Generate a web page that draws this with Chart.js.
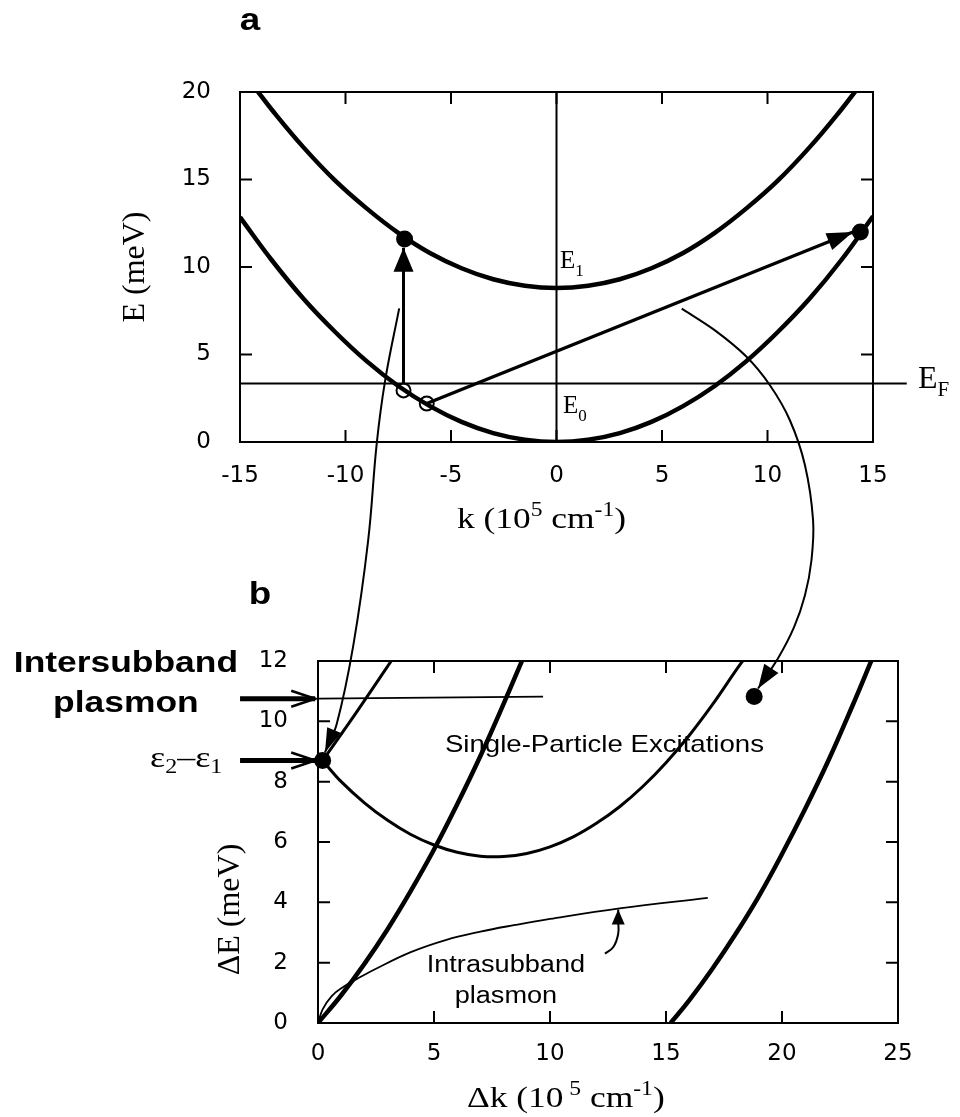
<!DOCTYPE html>
<html>
<head>
<meta charset="utf-8">
<title>Subband dispersion and excitation spectrum</title>
<script src="https://cdn.jsdelivr.net/npm/chart.js@4.4.1/dist/chart.umd.min.js"></script>
<style>
  html, body { margin: 0; background: #fff; overflow: hidden; }
  #page { position: relative; width: 960px; height: 1117px; }
  #page canvas { position: absolute; left: 0; top: 0; }
</style>
</head>
<body>
<div id="page">
  <canvas id="bands" width="960" height="1117"></canvas>
  <canvas id="spectrum" width="960" height="1117"></canvas>
</div>
<script>
// ---- panel a: subband dispersion (k in 1e5 cm^-1, E in meV) ----
const kTicks = [-15, -10, -5, 0, 5, 10, 15];
const eTicks = [0, 5, 10, 15, 20];

const kLower = [-15, -13.5, -12, -10.5, -9, -7.5, -6, -4.5, -3, -1.5, 0, 1.5, 3, 4.5, 6, 7.5, 9, 10.5, 12, 13.5, 15];
const eLower = [12.85, 10.4, 8.2, 6.3, 4.62, 3.2, 2.05, 1.15, 0.51, 0.13, 0, 0.13, 0.51, 1.15, 2.05, 3.2, 4.62, 6.3, 8.2, 10.4, 12.9];
const kUpper = [-14.3, -13.5, -12, -10.5, -9, -7.5, -6, -4.5, -3, -1.5, 0, 1.5, 3, 4.5, 6, 7.5, 9, 10.5, 12, 13.5, 14.3];
const eUpper = [20.25, 19.0, 16.85, 14.95, 13.35, 11.95, 10.8, 9.93, 9.3, 8.93, 8.8, 8.93, 9.3, 9.93, 10.8, 11.95, 13.35, 14.95, 16.85, 19.0, 20.25];

const kFermi = [-15, 16.6];
const eFermi = [3.35, 3.35];
const kZero = [0, 0];
const eZero = [0, 20];

// vertical (intersubband) and tilted (finite k) transitions
const kVert = [-7.25, -7.25];
const eVert = [3.35, 11.1];
const kTilt = [-6.15, 14.05];
const eTilt = [2.2, 12.0];
const kHoles = [-7.25, -6.15];
const eHoles = [2.95, 2.2];
const kFilled = [-7.2, 14.4];
const eFilled = [11.6, 12.0];

// ---- panel b: excitation spectrum (dk in 1e5 cm^-1, dE in meV) ----
const dkTicks = [0, 5, 10, 15, 20, 25];
const dETicks = [0, 2, 4, 6, 8, 10, 12];

const dkSpeLow = [0.2, 1, 2, 3, 4, 5, 6, 7, 8, 9, 10, 11, 12, 13, 14, 15, 16, 17, 18, 18.4];
const dESpeLow = [8.7, 8.0, 7.3, 6.72, 6.25, 5.9, 5.66, 5.53, 5.52, 5.62, 5.84, 6.17, 6.62, 7.17, 7.84, 8.63, 9.53, 10.55, 11.67, 12.1];
const dkSpeHigh = [0.2, 1.7, 3.2];
const dESpeHigh = [8.7, 10.35, 12.05];
const dkIntraHigh = [0, 1, 2, 3, 4, 5, 6, 7, 8, 8.9];
const dEIntraHigh = [0, 0.92, 1.96, 3.11, 4.38, 5.75, 7.25, 8.85, 10.58, 12.2];
const dkIntraLow = [15.2, 16, 17, 18, 19, 20, 21, 22, 23, 23.9];
const dEIntraLow = [0, 0.75, 1.8, 2.95, 4.2, 5.6, 7.1, 8.7, 10.45, 12.1];

const dkInterPl = [0, 9.7];
const dEInterPl = [10.75, 10.82];
const dkIntraPl = [0, 0.2, 0.6, 1.1, 1.7, 2.5, 4, 5.5, 7, 8.5, 10, 13, 16.8];
const dEIntraPl = [0, 0.45, 0.9, 1.2, 1.47, 1.8, 2.35, 2.75, 3.03, 3.25, 3.45, 3.8, 4.15];

const dkDots = [0.2, 18.8];
const dEDots = [8.7, 10.82];

// pointers: label arrow, arrows onto the energy axis, links from panel a
const dkPlPointer = [12.37, 12.73, 12.94, 12.94, 12.94];
const dEPlPointer = [2.3, 2.52, 2.96, 3.4, 3.76];
const dkAxisArrow = [-3.36, -0.12];
const dEInterArrow = [10.75, 10.75];
const dEGapArrow = [8.7, 8.7];
const dkLinkVert = [3.5, 2.89, 2.53, 2.16, 1.52, 0.81, 0.3];
const dELinkVert = [23.69, 21.28, 19.2, 15.98, 12.51, 9.92, 8.97];
const dkLinkTilt = [15.68, 17.11, 18.45, 19.48, 20.34, 20.99, 21.34, 21.27, 20.99, 20.52, 19.83, 18.97];
const dELinkTilt = [23.68, 22.96, 22.1, 21.14, 19.98, 18.49, 16.66, 15.34, 14.18, 13.12, 12.09, 11.09];

const ink = '#000';
const sans = '"Liberation Sans", Arial, sans-serif';
const serif = '"Liberation Serif", "Times New Roman", serif';
const tickFont = '"DejaVu Sans", sans-serif';

const pts = (xs, ys) => xs.map((x, i) => ({ x, y: ys[i] }));

function curve(xs, ys, width, extra) {
  return Object.assign({
    data: pts(xs, ys), showLine: true, borderColor: ink, borderWidth: width,
    pointRadius: 0, tension: 0.4
  }, extra);
}

function dots(xs, ys, r, open) {
  return {
    data: pts(xs, ys), showLine: false, pointRadius: r, clip: false,
    pointBackgroundColor: open ? '#fff' : ink, pointBorderColor: ink,
    pointBorderWidth: open ? 2 : 0
  };
}

function axis(min, max, ticks, pad, fit) {
  return {
    type: 'linear', min, max,
    grid: { display: false, drawTicks: false },
    border: { display: false },
    ticks: { color: ink, font: { family: tickFont, size: 23 }, padding: pad },
    afterBuildTicks: s => { s.ticks = ticks.map(v => ({ value: v })); },
    afterFit: fit
  };
}

// box around the plot with inward ticks on all four sides
const framePlugin = {
  id: 'frame',
  afterDatasetsDraw(chart) {
    const { ctx, chartArea: { left, top, right, bottom }, scales: { x, y } } = chart;
    const len = 12;
    ctx.save();
    ctx.strokeStyle = ink;
    ctx.lineWidth = 2;
    ctx.strokeRect(left, top, right - left, bottom - top);
    ctx.beginPath();
    x.ticks.forEach(t => {
      if (t.value <= x.min || t.value >= x.max) return;
      const px = x.getPixelForValue(t.value);
      ctx.moveTo(px, bottom); ctx.lineTo(px, bottom - len);
      ctx.moveTo(px, top); ctx.lineTo(px, top + len);
    });
    y.ticks.forEach(t => {
      if (t.value <= y.min || t.value >= y.max) return;
      const py = y.getPixelForValue(t.value);
      ctx.moveTo(left, py); ctx.lineTo(left + len, py);
      ctx.moveTo(right, py); ctx.lineTo(right - len, py);
    });
    ctx.stroke();
    ctx.restore();
  }
};

// arrow heads at the last point of any dataset carrying a `head`
const headPlugin = {
  id: 'heads',
  afterDatasetsDraw(chart) {
    const ctx = chart.ctx;
    chart.data.datasets.forEach((ds, i) => {
      if (!ds.head) return;
      const p = chart.getDatasetMeta(i).data;
      const b = p[p.length - 1];
      let a = p[p.length - 2];
      if (b.cp1x !== undefined && (b.cp1x !== b.x || b.cp1y !== b.y)) a = { x: b.cp1x, y: b.cp1y };
      const { len, width, barb } = ds.head;
      ctx.save();
      ctx.translate(b.x, b.y);
      ctx.rotate(Math.atan2(b.y - a.y, b.x - a.x));
      ctx.beginPath();
      ctx.moveTo(-len, -width / 2);
      ctx.lineTo(0, 0);
      ctx.lineTo(-len, width / 2);
      if (barb) {
        ctx.strokeStyle = ink; ctx.lineWidth = 2.5; ctx.stroke();
      } else {
        ctx.closePath(); ctx.fillStyle = ink; ctx.fill();
      }
      ctx.restore();
    });
  }
};

// text placed at scale values; runs = [text, font, dy]
function notes(items) {
  return {
    id: 'notes',
    afterDraw(chart) {
      const { ctx, scales: { x, y } } = chart;
      items.forEach(it => {
        ctx.save();
        ctx.fillStyle = ink;
        ctx.translate(x.getPixelForValue(it.x), y.getPixelForValue(it.y));
        const sx = it.sx || 1;
        if (it.rotate) { ctx.rotate(-Math.PI / 2); ctx.scale(1, sx); } else ctx.scale(sx, 1);
        ctx.textBaseline = it.baseline || 'alphabetic';
        ctx.textAlign = 'left';
        let w = 0;
        it.runs.forEach(r => { ctx.font = r[1]; w += ctx.measureText(r[0]).width; });
        let cx = it.align === 'center' ? -w / 2 : 0;
        it.runs.forEach(r => {
          ctx.font = r[1];
          ctx.fillText(r[0], cx, r[2] || 0);
          cx += ctx.measureText(r[0]).width;
        });
        ctx.restore();
      });
    }
  };
}

const baseOptions = {
  responsive: false,
  animation: false,
  events: [],
  plugins: { legend: { display: false }, tooltip: { enabled: false } }
};

new Chart(document.getElementById('bands'), {
  type: 'scatter',
  data: {
    datasets: [
      curve(kZero, eZero, 2, { tension: 0 }),
      curve(kFermi, eFermi, 2, { tension: 0, clip: false }),
      curve(kLower, eLower, 4.5),
      curve(kUpper, eUpper, 4.5),
      curve(kVert, eVert, 3, { tension: 0, head: { len: 24, width: 20 } }),
      curve(kTilt, eTilt, 3.5, { tension: 0, head: { len: 26, width: 18 } }),
      dots(kHoles, eHoles, 7, true),
      dots(kFilled, eFilled, 8.5, false)
    ]
  },
  options: Object.assign({}, baseOptions, {
    layout: { padding: { left: 0, top: 92, right: 87, bottom: 615 } },
    scales: {
      x: axis(-15, 15, kTicks, 20, s => { s.height = 60; }),
      y: axis(0, 20, eTicks, 29, s => { s.width = 240; })
    }
  }),
  plugins: [framePlugin, headPlugin, notes([
    { x: -14.53, y: 23.54, align: 'center', sx: 1.15, runs: [['a', `bold 32px ${sans}`]] },
    { x: 0.17, y: 9.94, runs: [['E', `25px ${serif}`], ['1', `17px ${serif}`, 8]] },
    { x: 0.31, y: 1.66, runs: [['E', `25px ${serif}`], ['0', `17px ${serif}`, 8]] },
    { x: 17.13, y: 3.09, runs: [['E', `32px ${serif}`], ['F', `21px ${serif}`, 8]] },
    { x: -19.95, y: 10.0, rotate: true, align: 'center', baseline: 'middle', runs: [['E (meV)', `32px ${serif}`]] },
    { x: -4.72, y: -4.91, sx: 1.18, runs: [['k (10', `30px ${serif}`], ['5', `20px ${serif}`, -12], [' cm', `30px ${serif}`], ['-1', `20px ${serif}`, -12], [')', `30px ${serif}`]] }
  ])]
});

new Chart(document.getElementById('spectrum'), {
  type: 'scatter',
  data: {
    datasets: [
      curve(dkInterPl, dEInterPl, 1.8, { tension: 0 }),
      curve(dkIntraPl, dEIntraPl, 1.8),
      curve(dkSpeLow, dESpeLow, 3),
      curve(dkSpeHigh, dESpeHigh, 3),
      curve(dkIntraHigh, dEIntraHigh, 4.5),
      curve(dkIntraLow, dEIntraLow, 4.5),
      curve(dkPlPointer, dEPlPointer, 2, { clip: false, head: { len: 15, width: 13 } }),
      curve(dkAxisArrow, dEInterArrow, 5, { tension: 0, clip: false, head: { len: 24, width: 16, barb: true } }),
      curve(dkAxisArrow, dEGapArrow, 5, { tension: 0, clip: false, head: { len: 24, width: 16, barb: true } }),
      curve(dkLinkVert, dELinkVert, 2, { clip: false, head: { len: 24, width: 15 } }),
      curve(dkLinkTilt, dELinkTilt, 2, { clip: false, tension: 0.3, head: { len: 24, width: 17 } }),
      dots(dkDots, dEDots, 8.5, false)
    ]
  },
  options: Object.assign({}, baseOptions, {
    layout: { padding: { left: 0, top: 661, right: 62, bottom: 54 } },
    scales: {
      x: axis(0, 25, dkTicks, 17, s => { s.height = 40; }),
      y: axis(0, 12, dETicks, 30, s => { s.width = 318; })
    }
  }),
  plugins: [framePlugin, headPlugin, notes([
    { x: -2.5, y: 13.88, align: 'center', sx: 1.15, runs: [['b', `bold 32px ${sans}`]] },
    { x: -8.28, y: 11.62, align: 'center', sx: 1.18, runs: [['Intersubband', `bold 30px ${sans}`]] },
    { x: -8.28, y: 10.3, align: 'center', sx: 1.18, runs: [['plasmon', `bold 30px ${sans}`]] },
    { x: -7.24, y: 8.48, sx: 1.2, runs: [['ε', `30px ${serif}`], ['2', `20px ${serif}`, 6], ['–', `30px ${serif}`], ['ε', `30px ${serif}`], ['1', `20px ${serif}`, 6]] },
    { x: 5.47, y: 8.97, sx: 1.15, runs: [['Single-Particle Excitations', `24px ${sans}`]] },
    { x: 8.1, y: 1.68, align: 'center', sx: 1.18, runs: [['Intrasubband', `23px ${sans}`]] },
    { x: 8.1, y: 0.65, align: 'center', sx: 1.18, runs: [['plasmon', `23px ${sans}`]] },
    { x: -3.75, y: 1.58, rotate: true, baseline: 'middle', runs: [['ΔE (meV)', `32px ${serif}`]] },
    { x: 6.42, y: -2.79, sx: 1.18, runs: [['Δk (10', `30px ${serif}`], [' 5', `20px ${serif}`, -12], [' cm', `30px ${serif}`], ['-1', `20px ${serif}`, -12], [')', `30px ${serif}`]] }
  ])]
});
</script>
</body>
</html>
